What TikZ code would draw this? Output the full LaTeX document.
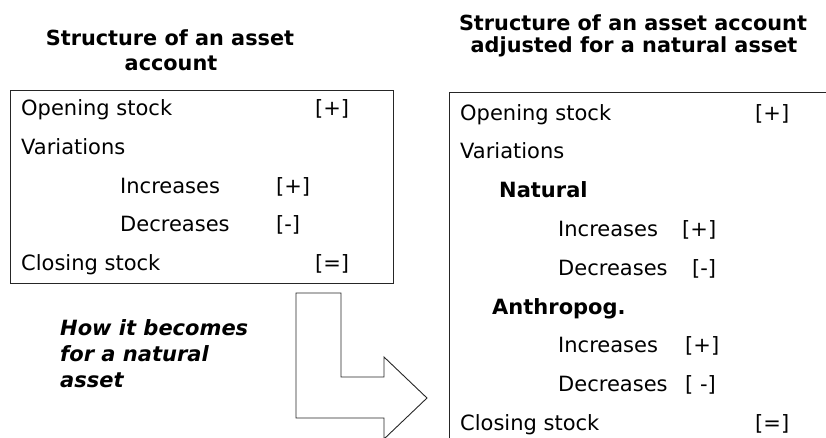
\documentclass[tikz,border=0pt]{standalone}
\usepackage{fontspec}
\setmainfont{DejaVu Sans}
\begin{document}
\begin{tikzpicture}[x=1pt,y=-1pt,
  txt/.style={anchor=base west,inner sep=0pt,font=\fontsize{21}{25}\selectfont},
  ttl/.style={anchor=base,inner sep=0pt,font=\fontsize{20.8}{25}\selectfont\bfseries},
  sub/.style={anchor=base west,inner sep=0pt,font=\fontsize{21}{25}\selectfont\bfseries},
  note/.style={anchor=base west,inner sep=0pt,font=\fontsize{21}{25}\selectfont\bfseries\itshape},
  frame/.style={draw=black!85,line width=1pt}]
\useasboundingbox (0,0) rectangle (826,437);
\clip (0,0) rectangle (826,437);

% titles
\node[ttl] (t1a) at (170,45) {Structure of an asset};
\node[ttl] (t1b) at (171,70) {account};
\node[ttl] (t2a) at (633,30) {Structure of an asset account};
\node[ttl] (t2b) at (634,52) {adjusted for a natural asset};

% plain asset account
\draw[frame] (10,90) rectangle (393,283);
\node[txt] (lo)  at (21,115.5)  {Opening stock};
\node[txt] (lop) at (315,115.5) {[+]};
\node[txt] (lv)  at (21,154.3)  {Variations};
\node[txt] (li)  at (120,193.1) {Increases};
\node[txt] (lip) at (276,193.1) {[+]};
\node[txt] (ld)  at (120,231.9) {Decreases};
\node[txt] (ldm) at (276,231.9) {[-]};
\node[txt] (lc)  at (21,270.7)  {Closing stock};
\node[txt] (lce) at (315,270.7) {[=]};

% note
\node[note] (n1) at (60,335) {How it becomes};
\node[note] (n2) at (60,361) {for a natural};
\node[note] (n3) at (60,387) {asset};

% bent block arrow
\draw[frame,line width=0.9pt] (296,293) -- (341,293) -- (341,377) -- (384,377) -- (384,357)
  -- (427,398) -- (384,439) -- (384,418) -- (296,418) -- cycle;

% asset account for a natural asset (runs past the page edges)
\draw[frame] (449,445) -- (449,92) -- (835,92);
\node[txt] (ro)  at (460,120)   {Opening stock};
\node[txt] (rop) at (755,120)   {[+]};
\node[txt] (rv)  at (460,158.8) {Variations};
\node[sub] (rn)  at (499,197.6) {Natural};
\node[txt] (ri1) at (558,236.4) {Increases};
\node[txt] (rp1) at (682,236.4) {[+]};
\node[txt] (rd1) at (558,275.2) {Decreases};
\node[txt] (rm1) at (692,275.2) {[-]};
\node[sub] (ra)  at (492,314)   {Anthropog.};
\node[txt] (ri2) at (558,352.8) {Increases};
\node[txt] (rp2) at (685,352.8) {[+]};
\node[txt] (rd2) at (558,391.6) {Decreases};
\node[txt] (rm2) at (685,391.6) {[ -]};
\node[txt] (rc)  at (460,430.4) {Closing stock};
\node[txt] (rce) at (755,430.4) {[=]};
\end{tikzpicture}
\end{document}
